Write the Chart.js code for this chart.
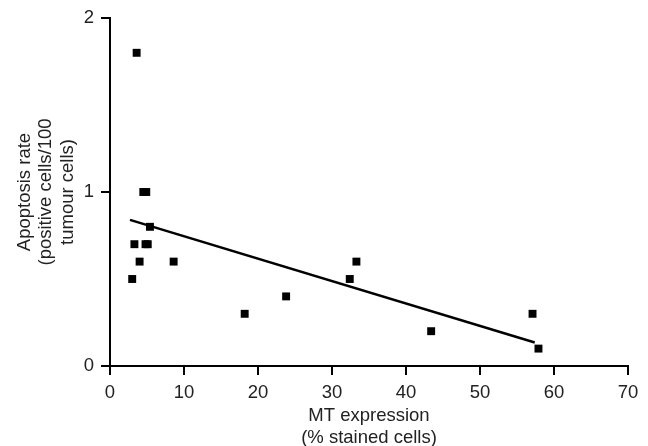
<!DOCTYPE html>
<html>
<head>
<meta charset="utf-8">
<script src="https://cdn.jsdelivr.net/npm/chart.js@4/dist/chart.umd.min.js"></script>
<style>
  html, body { margin: 0; padding: 0; background: #fff; }
  #wrap { width: 648px; height: 446px; }
</style>
</head>
<body>
<div id="wrap"><canvas id="scatterChart" width="648" height="446"></canvas></div>
<script>
// MT expression (% stained cells) vs apoptosis rate
const mtExpression = [3.6, 4.5, 4.9, 5.4, 3.3, 4.8, 5.1, 4.0, 8.6, 3.0, 18.2, 23.8, 32.4, 33.3, 43.4, 57.1, 57.9];
const apoptosisRate = [1.8, 1.0, 1.0, 0.8, 0.7, 0.7, 0.7, 0.6, 0.6, 0.5, 0.3, 0.4, 0.5, 0.6, 0.2, 0.3, 0.1];

// fitted regression line, start and end
const fitX = [2.7, 57.4];
const fitY = [0.84, 0.135];

const xTitle = ['MT expression', '(% stained cells)'];
const yTitle = ['Apoptosis rate', '(positive cells/100', 'tumour cells)'];

document.addEventListener('DOMContentLoaded', function() {
    const points = mtExpression.map((x, i) => ({ x: x, y: apoptosisRate[i] }));
    const fitLine = fitX.map((x, i) => ({ x: x, y: fitY[i] }));

    const font = { family: '"Liberation Sans", Arial, sans-serif', size: 18.5, lineHeight: 1.16 };

    const ctx = document.getElementById('scatterChart').getContext('2d');
    new Chart(ctx, {
        type: 'scatter',
        data: {
            datasets: [{
                data: points,
                pointStyle: 'rect',
                pointRadius: 5.6,
                borderWidth: 0,
                backgroundColor: '#000',
                borderColor: '#000'
            }, {
                type: 'line',
                data: fitLine,
                showLine: true,
                pointRadius: 0,
                borderColor: '#000',
                borderWidth: 2.5,
                fill: false
            }]
        },
        options: {
            responsive: false,
            animation: false,
            layout: { padding: { top: 18, right: 20, bottom: 0, left: 0 } },
            plugins: { legend: { display: false }, tooltip: { enabled: false } },
            scales: {
                x: {
                    type: 'linear',
                    min: 0,
                    max: 70,
                    ticks: { stepSize: 10, color: '#222', font: font, padding: 7, maxRotation: 0 },
                    grid: { drawOnChartArea: false, drawTicks: true, tickLength: 9, tickColor: '#000', lineWidth: 2 },
                    border: { display: true, color: '#000', width: 2 },
                    title: { display: true, text: xTitle, color: '#222', font: font, padding: { top: 0, bottom: -2.5 } },
                    afterFit: function(scale) { scale.height = 80; }
                },
                y: {
                    type: 'linear',
                    min: 0,
                    max: 2,
                    ticks: { stepSize: 1, color: '#222', font: font, padding: 7 },
                    grid: { drawOnChartArea: false, drawTicks: true, tickLength: 9, tickColor: '#000', lineWidth: 2 },
                    border: { display: true, color: '#000', width: 2 },
                    title: { display: true, text: yTitle, color: '#222', font: font, padding: { top: 14, bottom: 0 } },
                    afterFit: function(scale) { scale.width = 110; }
                }
            }
        }
    });
});
</script>
</body>
</html>
